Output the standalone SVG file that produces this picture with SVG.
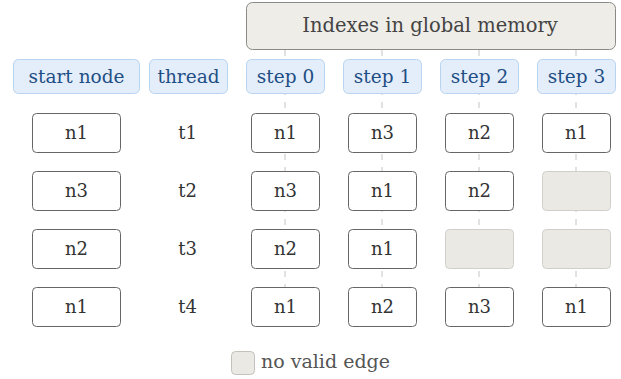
<svg xmlns="http://www.w3.org/2000/svg" width="621" height="379" viewBox="0 0 621 379">
<style>
text{font-family:'DejaVu Serif','Liberation Serif',serif;text-anchor:middle;dominant-baseline:central}
.title{fill:#efede8;stroke:#8c8a86;stroke-width:1}
.tt{font-size:19.5px;fill:#444}
.hdr{fill:#e4eefa;stroke:#b8d4f0;stroke-width:1}
.ht{font-size:18.5px;fill:#1f4e85}
.node{fill:#fff;stroke:#666;stroke-width:1}
.nt{font-size:18px;fill:#333}
.empty{fill:#ebe9e4;stroke:#d2cfca;stroke-width:1}
.dash{stroke:#c4c4c4;stroke-width:1;stroke-dasharray:6 7;fill:none}
</style>
<rect width="621" height="379" fill="#fff"/>
<g id="connectors">
<line class="dash" x1="285" y1="50" x2="285" y2="287"/>
<line class="dash" x1="382" y1="50" x2="382" y2="287"/>
<line class="dash" x1="479" y1="50" x2="479" y2="287"/>
<line class="dash" x1="576" y1="50" x2="576" y2="287"/>
</g>
<g id="title"><rect class="title" x="246.5" y="2.5" width="369" height="47" rx="6"/><text class="tt" x="430" y="25.5">Indexes in global memory</text></g>
<g id="h-start"><rect class="hdr" x="13.5" y="59.5" width="126" height="34" rx="5"/><text class="ht" x="76.5" y="76">start node</text></g>
<g id="h-thread"><rect class="hdr" x="149.5" y="59.5" width="78" height="34" rx="5"/><text class="ht" x="188.5" y="76">thread</text></g>
<g id="h-step0"><rect class="hdr" x="246.5" y="59.5" width="78" height="34" rx="5"/><text class="ht" x="285.5" y="76">step 0</text></g>
<g id="h-step1"><rect class="hdr" x="343.5" y="59.5" width="78" height="34" rx="5"/><text class="ht" x="382.5" y="76">step 1</text></g>
<g id="h-step2"><rect class="hdr" x="440.5" y="59.5" width="78" height="34" rx="5"/><text class="ht" x="479.5" y="76">step 2</text></g>
<g id="h-step3"><rect class="hdr" x="537.5" y="59.5" width="78" height="34" rx="5"/><text class="ht" x="576.5" y="76">step 3</text></g>

<g id="s1"><rect class="node" x="32.5" y="113.5" width="88" height="39" rx="4"/><text class="nt" x="76.5" y="132.5">n1</text></g>
<g id="s2"><rect class="node" x="32.5" y="171.5" width="88" height="39" rx="4"/><text class="nt" x="76.5" y="190.5">n3</text></g>
<g id="s3"><rect class="node" x="32.5" y="229.5" width="88" height="39" rx="4"/><text class="nt" x="76.5" y="248.5">n2</text></g>
<g id="s4"><rect class="node" x="32.5" y="287.5" width="88" height="39" rx="4"/><text class="nt" x="76.5" y="306.5">n1</text></g>

<g id="t1"><text class="nt" x="187.5" y="132.5">t1</text></g>
<g id="t2"><text class="nt" x="187.5" y="190.5">t2</text></g>
<g id="t3"><text class="nt" x="187.5" y="248.5">t3</text></g>
<g id="t4"><text class="nt" x="187.5" y="306.5">t4</text></g>

<g id="r1c0"><rect class="node" x="251.5" y="113.5" width="68" height="39" rx="4"/><text class="nt" x="285.5" y="132.5">n1</text></g>
<g id="r1c1"><rect class="node" x="348.5" y="113.5" width="68" height="39" rx="4"/><text class="nt" x="382.5" y="132.5">n3</text></g>
<g id="r1c2"><rect class="node" x="445.5" y="113.5" width="68" height="39" rx="4"/><text class="nt" x="479.5" y="132.5">n2</text></g>
<g id="r1c3"><rect class="node" x="542.5" y="113.5" width="68" height="39" rx="4"/><text class="nt" x="576.5" y="132.5">n1</text></g>

<g id="r2c0"><rect class="node" x="251.5" y="171.5" width="68" height="39" rx="4"/><text class="nt" x="285.5" y="190.5">n3</text></g>
<g id="r2c1"><rect class="node" x="348.5" y="171.5" width="68" height="39" rx="4"/><text class="nt" x="382.5" y="190.5">n1</text></g>
<g id="r2c2"><rect class="node" x="445.5" y="171.5" width="68" height="39" rx="4"/><text class="nt" x="479.5" y="190.5">n2</text></g>
<g id="r2c3"><rect class="empty" x="542.5" y="171.5" width="68" height="39" rx="4"/></g>

<g id="r3c0"><rect class="node" x="251.5" y="229.5" width="68" height="39" rx="4"/><text class="nt" x="285.5" y="248.5">n2</text></g>
<g id="r3c1"><rect class="node" x="348.5" y="229.5" width="68" height="39" rx="4"/><text class="nt" x="382.5" y="248.5">n1</text></g>
<g id="r3c2"><rect class="empty" x="445.5" y="229.5" width="68" height="39" rx="4"/></g>
<g id="r3c3"><rect class="empty" x="542.5" y="229.5" width="68" height="39" rx="4"/></g>

<g id="r4c0"><rect class="node" x="251.5" y="287.5" width="68" height="39" rx="4"/><text class="nt" x="285.5" y="306.5">n1</text></g>
<g id="r4c1"><rect class="node" x="348.5" y="287.5" width="68" height="39" rx="4"/><text class="nt" x="382.5" y="306.5">n2</text></g>
<g id="r4c2"><rect class="node" x="445.5" y="287.5" width="68" height="39" rx="4"/><text class="nt" x="479.5" y="306.5">n3</text></g>
<g id="r4c3"><rect class="node" x="542.5" y="287.5" width="68" height="39" rx="4"/><text class="nt" x="576.5" y="306.5">n1</text></g>

<g id="legend"><rect class="empty" x="231.5" y="351.5" width="23" height="23" rx="4" style="stroke:#c4c1bb"/><text x="261" y="361" style="font-size:19px;fill:#555;text-anchor:start">no valid edge</text></g>
</svg>
